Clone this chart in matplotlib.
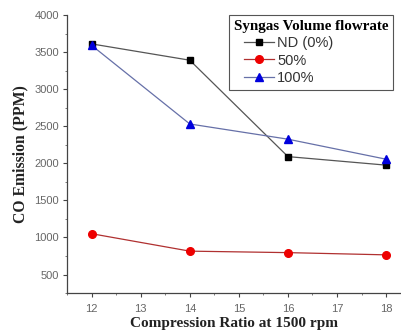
import matplotlib
matplotlib.use('Agg')
import matplotlib.pyplot as plt
from matplotlib.ticker import MultipleLocator
from matplotlib.offsetbox import DrawingArea

# data
ratio = [12, 14, 16, 18]
co_nd = [3610, 3390, 2090, 1975]
co_50 = [1050, 815, 795, 765]
co_100 = [3590, 2530, 2325, 2055]

labels = ['ND (0%)', '50%', '100%']
legend_title = 'Syngas Volume flowrate'
xlabel = 'Compression Ratio at 1500 rpm'
ylabel = 'CO Emission (PPM)'

fig = plt.figure(figsize=(4.02, 3.33), dpi=100)
ax = fig.add_axes([0.167, 0.12, 0.83, 0.835])

ax.plot(ratio, co_nd, '-', color='#555555', lw=0.9, marker='s', ms=5,
		mfc='black', mec='black', label=labels[0])
ax.plot(ratio, co_50, '-', color='#b03030', lw=0.9, marker='o', ms=5.5,
		mfc='#ee0000', mec='#ee0000', label=labels[1])
ax.plot(ratio, co_100, '-', color='#6670a8', lw=0.9, marker='^', ms=6,
		mfc='#0000dd', mec='#0000dd', label=labels[2])

ax.set_xlim(11.5, 18.3)
ax.set_ylim(250, 4000)
ax.xaxis.set_major_locator(MultipleLocator(1))
ax.xaxis.set_minor_locator(MultipleLocator(0.5))
ax.yaxis.set_major_locator(MultipleLocator(500))
ax.yaxis.set_minor_locator(MultipleLocator(250))
ax.set_yticks(range(500, 4001, 500))

for side in ['top', 'right']:
	ax.spines[side].set_visible(False)
for side in ['left', 'bottom']:
	ax.spines[side].set_color('#444444')
	ax.spines[side].set_linewidth(0.9)

ax.tick_params(which='major', length=3, width=0.8, color='#444444',
			   labelsize=8, labelcolor='#666666', pad=3)
ax.tick_params(axis='x', which='major', pad=5)
ax.tick_params(which='minor', length=1.5, width=0.6, color='#666666')
for t in ax.get_xticklabels() + ax.get_yticklabels():
	t.set_family('Liberation Sans')

ax.set_xlabel(xlabel, family='Liberation Serif', fontweight='bold',
			  fontsize=11, color='#222222', labelpad=2)
ax.set_ylabel(ylabel, family='Liberation Serif', fontweight='bold',
			  fontsize=11.3, color='#222222', labelpad=4)

leg = ax.legend(loc='upper right', bbox_to_anchor=(0.978, 1.0), title=legend_title,
				prop={'family': 'Liberation Sans', 'size': 10.5},
				title_fontproperties={'family': 'Liberation Serif', 'weight': 'bold', 'size': 10.8},
				fancybox=False, framealpha=1, edgecolor='#555555',
				handlelength=2.1, handletextpad=0.2, labelspacing=0.22,
				borderpad=0.35, borderaxespad=0.0, columnspacing=0.3)
leg.get_frame().set_linewidth(0.8)
leg._legend_box.align = 'left'
# indent the entries a little under the title
leg._legend_handle_box.get_children().insert(0, DrawingArea(4, 1))
for t in leg.get_texts():
	t.set_color('#333333')

fig.savefig('out.png', dpi=100)
